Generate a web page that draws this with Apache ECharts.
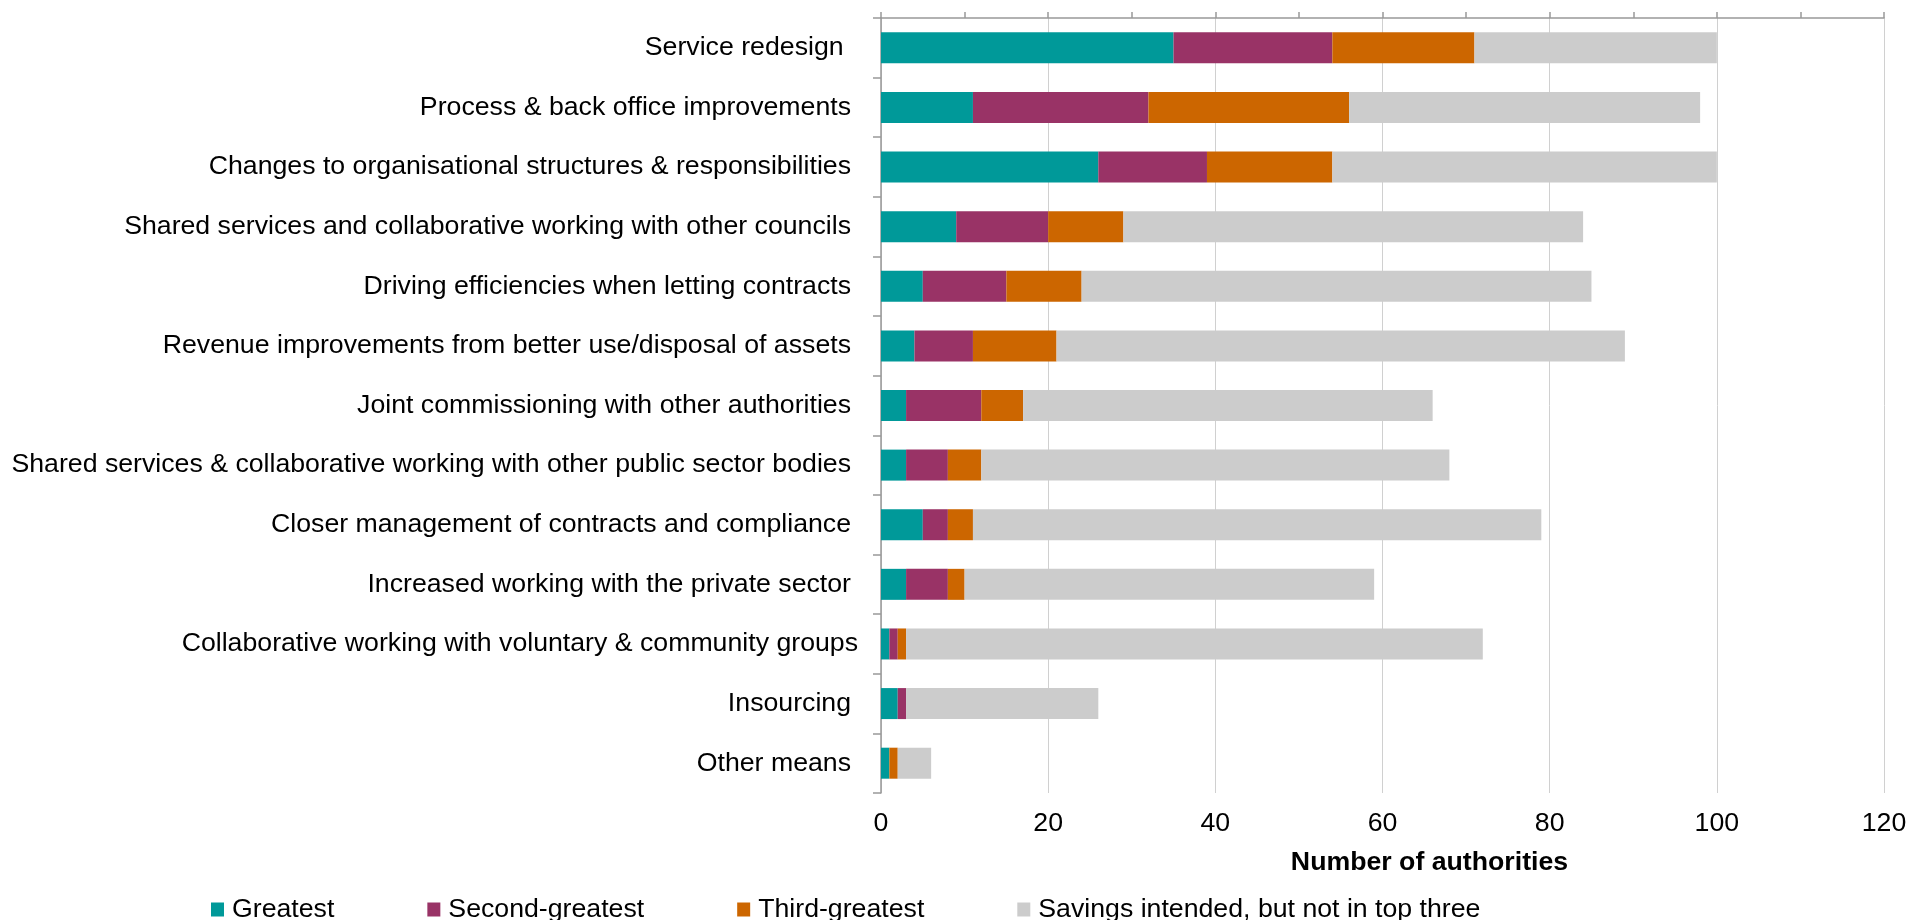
<!DOCTYPE html>
<html>
<head>
<meta charset="utf-8">
<script src="https://cdn.jsdelivr.net/npm/echarts@6/dist/echarts.min.js"></script>
<style>
  html, body { margin: 0; padding: 0; background: #ffffff; }
  #chart { width: 1910px; height: 920px; }
</style>
</head>
<body>
<div id="chart"></div>
<script>
// Ways of making savings, ranked by number of authorities
const categories = [
  'Service redesign ',
  'Process & back office improvements',
  'Changes to organisational structures & responsibilities',
  'Shared services and collaborative working with other councils',
  'Driving efficiencies when letting contracts',
  'Revenue improvements from better use/disposal of assets',
  'Joint commissioning with other authorities',
  'Shared services & collaborative working with other public sector bodies',
  'Closer management of contracts and compliance',
  'Increased working with the private sector',
  'Collaborative working with voluntary & community groups',
  'Insourcing',
  'Other means'
];

const seriesNames = [
  'Greatest',
  'Second-greatest',
  'Third-greatest',
  'Savings intended, but not in top three'
];

const greatest       = [35, 11, 26,  9,  5,  4,  3,  3,  5,  3,  1,  2, 1];
const secondGreatest = [19, 21, 13, 11, 10,  7,  9,  5,  3,  5,  1,  1, 0];
const thirdGreatest  = [17, 24, 15,  9,  9, 10,  5,  4,  3,  2,  1,  0, 1];
const notInTopThree  = [29, 42, 46, 55, 61, 68, 49, 56, 68, 49, 69, 23, 4];

const xTicks = [0, 20, 40, 60, 80, 100, 120];

const colors = ['#009999', '#993366', '#cc6600', '#cccccc'];
const font = "'Liberation Sans', Arial, sans-serif";
const fontSize = 26.7;

const chart = echarts.init(document.getElementById('chart'), null, { renderer: 'canvas' });

const values = [greatest, secondGreatest, thirdGreatest, notInTopThree];

// the longest wrapped label sits slightly closer to the axis
const categoryItems = categories.map(c =>
  c.startsWith('Collaborative working')
    ? { value: c, textStyle: { padding: [0, -7, 0, 0] } }
    : c
);

chart.setOption({
  animation: false,
  backgroundColor: '#ffffff',
  textStyle: { fontFamily: font, color: '#000000' },
  color: colors,
  grid: { left: 881, right: 26, top: 18, bottom: 127, containLabel: false },
  legend: {
    data: seriesNames,
    left: 206,
    top: 891,
    itemWidth: 13,
    itemHeight: 14,
    itemGap: 93,
    icon: 'rect',
    textStyle: { fontFamily: font, fontSize: fontSize, color: '#000000', padding: [0, 0, 0, 3] }
  },
  xAxis: [
    {
      type: 'value',
      position: 'bottom',
      min: xTicks[0],
      max: xTicks[xTicks.length - 1],
      interval: xTicks[1] - xTicks[0],
      axisLine: { show: false },
      axisTick: { show: false },
      axisLabel: { fontFamily: font, fontSize: fontSize, color: '#000000', margin: 17 },
      splitLine: { show: true, lineStyle: { color: '#d0d0d0', width: 1 } },
      name: 'Number of authorities',
      nameLocation: 'middle',
      nameGap: 56,
      nameTextStyle: { fontFamily: font, fontSize: fontSize, fontWeight: 'bold', color: '#000000', padding: [0, 0, 0, 94] }
    },
    {
      type: 'value',
      position: 'top',
      min: 0,
      max: 120,
      interval: 10,
      axisLine: { show: true, lineStyle: { color: '#999999', width: 1.5 } },
      axisTick: { show: true, length: 6, lineStyle: { color: '#999999', width: 1.5 } },
      axisLabel: { show: false },
      splitLine: { show: false }
    }
  ],
  yAxis: {
    type: 'category',
    data: categoryItems,
    inverse: true,
    axisLine: { show: true, lineStyle: { color: '#999999', width: 1.5 } },
    axisTick: { show: true, length: 8, lineStyle: { color: '#999999', width: 1.5 } },
    axisLabel: { fontFamily: font, fontSize: fontSize, color: '#000000', margin: 30 },
    splitLine: { show: false }
  },
  series: seriesNames.map((name, i) => ({
    name: name,
    type: 'bar',
    stack: 'total',
    xAxisIndex: 0,
    barWidth: '52%',
    itemStyle: { color: colors[i] },
    emphasis: { disabled: true },
    data: values[i]
  }))
});
</script>
</body>
</html>
